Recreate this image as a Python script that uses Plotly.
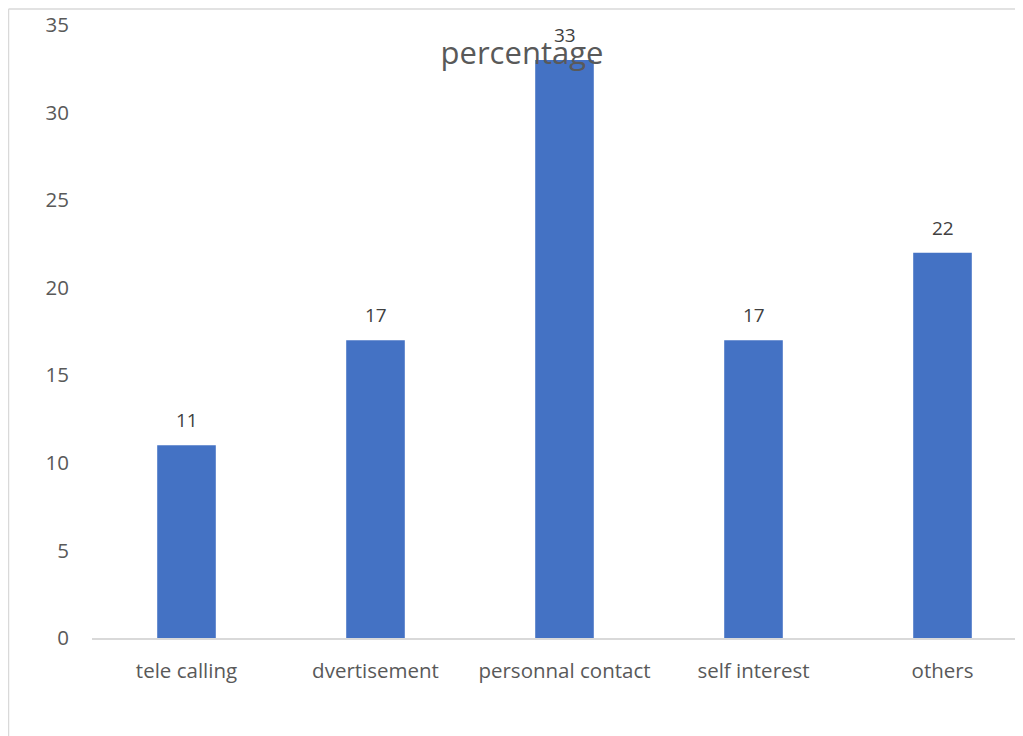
import plotly.graph_objects as go

categories = ["tele calling", "dvertisement", "personnal contact", "self interest", "others"]
values = [11, 17, 33, 17, 22]
y_ticks = [0, 5, 10, 15, 20, 25, 30, 35]

# page body has an 8px margin, so figure coordinates = screen coordinates - 8
OFF = 8
W, H = 1023 - OFF, 736 - OFF
L = 92 - OFF
T = 25 - OFF
B = H - (638 - OFF)
R = 0
plot_w = W - L - R
slot = 189.0
x_right = -0.5 + plot_w / slot

FONT = "Open Sans"
GRAY = "#595959"

fig = go.Figure()
fig.add_trace(go.Bar(
    x=categories, y=values,
    marker=dict(color="#4472C4", line=dict(width=0)),
    width=0.31,
    hoverinfo="x+y",
))

for c, v in zip(categories, values):
    fig.add_annotation(x=c, y=v, text=str(v), showarrow=False,
                       yanchor="bottom", yshift=10,
                       font=dict(family=FONT, size=19, color="#404040"))

fig.update_layout(
    width=W, height=H,
    margin=dict(l=L, r=R, t=T, b=B, pad=0),
    paper_bgcolor="white", plot_bgcolor="white",
    showlegend=False,
    bargap=0.69,
    title=dict(text="percentage", x=(522 - OFF) / W, xanchor="center",
               y=1 - (53 - OFF) / H, yanchor="middle", xref="container", yref="container",
               font=dict(family=FONT, size=31, color=GRAY)),
    xaxis=dict(range=[-0.5, x_right], showgrid=False, showline=True,
               linecolor="#d9d9d9", linewidth=1.5, ticks="",
               tickfont=dict(family=FONT, size=20.5, color=GRAY),
               ticklabelstandoff=14, zeroline=False),
    yaxis=dict(range=[0, 35], tickvals=y_ticks, showgrid=False, zeroline=False,
               showline=False, ticks="",
               tickfont=dict(family=FONT, size=20.5, color=GRAY),
               ticklabelstandoff=22),
)

# chart-area border (left and top) like the Excel frame
plot_h = H - T - B
x0 = (8 - OFF + 0.5 - L) / plot_w
ytop = 1 + (T - (9 - OFF)) / plot_h
ybot = -B / plot_h
fig.add_shape(type="line", xref="paper", yref="paper", x0=x0, x1=x0, y0=ybot, y1=ytop,
              line=dict(color="#d9d9d9", width=1.5))
fig.add_shape(type="line", xref="paper", yref="paper", x0=x0, x1=1.0, y0=ytop, y1=ytop,
              line=dict(color="#d9d9d9", width=1.5))

fig.write_html("out.html")
